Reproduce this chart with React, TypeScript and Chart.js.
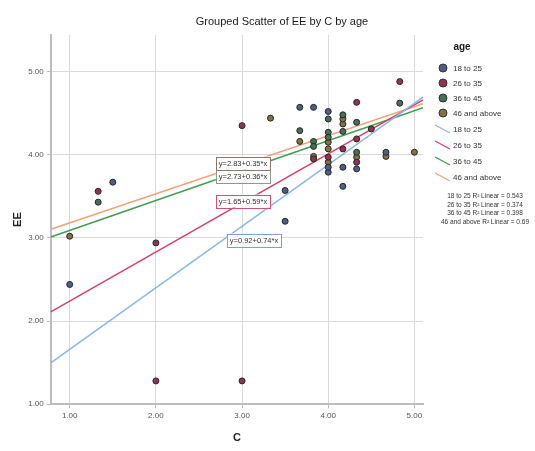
import React, { useEffect, useRef } from "react";
import { Chart, registerables } from "chart.js";

Chart.register(...registerables);

// ---- data ----
const GROUPS = ["18 to 25", "26 to 35", "36 to 45", "46 and above"];
const X_TICKS = [1, 2, 3, 4, 5];
const Y_TICKS = [1, 2, 3, 4, 5];
const X_MIN = 0.78;
const X_MAX = 5.1;
const Y_MIN = 1;
const Y_MAX = 5.44;

const C_18 = [1.0, 1.5, 3.5, 3.5, 3.67, 3.83, 4.0, 4.0, 4.0, 4.17, 4.17, 4.33, 4.67];
const EE_18 = [2.44, 3.67, 3.2, 3.57, 4.57, 4.57, 4.52, 3.79, 3.85, 3.62, 3.85, 3.83, 4.03];

const C_26 = [1.33, 2.0, 2.0, 3.0, 3.0, 3.83, 4.0, 4.17, 4.33, 4.33, 4.33, 4.5, 4.83];
const EE_26 = [3.56, 2.94, 1.28, 1.28, 4.35, 3.95, 3.97, 4.07, 4.63, 3.91, 4.19, 4.31, 4.88];

const C_36 = [1.33, 3.67, 3.83, 3.83, 4.0, 4.0, 4.0, 4.17, 4.17, 4.33, 4.33, 4.83];
const EE_36 = [3.43, 4.29, 4.16, 4.1, 4.27, 4.21, 4.43, 4.48, 4.28, 4.39, 4.03, 4.62];

const C_46 = [1.0, 3.33, 3.67, 3.83, 4.0, 4.0, 4.0, 4.17, 4.17, 4.33, 4.67, 5.0];
const EE_46 = [3.02, 4.44, 4.16, 3.98, 4.15, 4.07, 3.91, 4.37, 4.43, 3.97, 3.98, 4.03];

const INTERCEPTS = [0.92, 1.65, 2.73, 2.83];
const SLOPES = [0.74, 0.59, 0.36, 0.35];
const R2 = ["0.543", "0.374", "0.398", "0.69"];

// ---- styles ----
const POINT_FILL = ["#4e5f86", "#93324f", "#466f56", "#857040"];
const LINE_COLORS = ["#8ab8e4", "#d6416a", "#3f9c52", "#f2a276"];
const BOX_BORDER = ["#7f9fd0", "#d0507a", "#8a9a8a", "#8a7a6a"];
const LABEL_CENTERS = [
  { x: 254, y: 240 },
  { x: 243, y: 201 },
  { x: 243, y: 176 },
  { x: 243, y: 163 },
];
const FONT = "'Liberation Sans', Arial, sans-serif";

const toPts = (xs: number[], ys: number[]) => xs.map((x, i) => ({ x, y: ys[i] }));
const SERIES = [toPts(C_18, EE_18), toPts(C_26, EE_26), toPts(C_36, EE_36), toPts(C_46, EE_46)];

const fitLabel = (i: number) => `y=${INTERCEPTS[i].toFixed(2)}+${SLOPES[i].toFixed(2)}*x`;

const overlayPlugin = {
  id: "overlay",
  afterDatasetsDraw(chart: any) {
    const ctx = chart.ctx as CanvasRenderingContext2D;
    ctx.save();
    for (let i = 0; i < 4; i++) {
      const c = LABEL_CENTERS[i];
      ctx.font = `7.5px ${FONT}`;
      const t = fitLabel(i);
      const w = ctx.measureText(t).width + 6;
      const h = 13;
      ctx.fillStyle = "#ffffff";
      ctx.fillRect(c.x - w / 2, c.y - h / 2, w, h);
      ctx.strokeStyle = BOX_BORDER[i];
      ctx.lineWidth = 1;
      ctx.strokeRect(Math.round(c.x - w / 2) + 0.5, Math.round(c.y - h / 2) + 0.5, Math.round(w), h);
      ctx.fillStyle = "#333";
      ctx.textAlign = "center";
      ctx.textBaseline = "middle";
      ctx.fillText(t, c.x, c.y + 0.5);
    }
    ctx.restore();
  },
  afterDraw(chart: any) {
    const ctx = chart.ctx as CanvasRenderingContext2D;
    ctx.save();
    ctx.fillStyle = "#1a1a1a";
    ctx.font = `11px ${FONT}`;
    ctx.textAlign = "center";
    ctx.textBaseline = "middle";
    ctx.fillText("Grouped Scatter of EE by C by age", 282, 22);

    ctx.font = `bold 10px ${FONT}`;
    ctx.fillText("age", 462, 47);

    ctx.textAlign = "left";
    ctx.font = `8px ${FONT}`;
    const markerY = [68, 83, 98, 113];
    for (let i = 0; i < 4; i++) {
      ctx.beginPath();
      ctx.arc(443, markerY[i], 4, 0, Math.PI * 2);
      ctx.fillStyle = POINT_FILL[i];
      ctx.fill();
      ctx.strokeStyle = "#333";
      ctx.lineWidth = 1;
      ctx.stroke();
      ctx.fillStyle = "#333";
      ctx.fillText(GROUPS[i], 453, markerY[i] + 0.5);
    }
    const lineY = [129, 145, 161, 177];
    for (let i = 0; i < 4; i++) {
      ctx.beginPath();
      ctx.moveTo(435, lineY[i] - 4);
      ctx.lineTo(450, lineY[i] + 4);
      ctx.strokeStyle = LINE_COLORS[i];
      ctx.lineWidth = 1.3;
      ctx.stroke();
      ctx.fillStyle = "#333";
      ctx.fillText(GROUPS[i], 453, lineY[i] + 0.5);
    }
    ctx.textAlign = "center";
    ctx.font = `6.5px ${FONT}`;
    const r2Y = [196, 205, 213, 222];
    for (let i = 0; i < 4; i++) {
      ctx.fillStyle = "#333";
      ctx.fillText(`${GROUPS[i]} R² Linear = ${R2[i]}`, 485, r2Y[i]);
    }
    ctx.restore();
  },
};

export default function App() {
  const ref = useRef<HTMLCanvasElement | null>(null);
  useEffect(() => {
    if (!ref.current) return;
    const lineSets = GROUPS.map((g, i) => ({
      type: "line" as const,
      label: g + " fit",
      data: [
        { x: X_MIN, y: INTERCEPTS[i] + SLOPES[i] * X_MIN },
        { x: X_MAX, y: INTERCEPTS[i] + SLOPES[i] * X_MAX },
      ],
      borderColor: LINE_COLORS[i],
      borderWidth: 1.5,
      pointRadius: 0,
      fill: false,
      order: 2,
    }));
    const pointSets = GROUPS.map((g, i) => ({
      type: "scatter" as const,
      label: g,
      data: SERIES[i],
      backgroundColor: POINT_FILL[i],
      borderColor: "#262626",
      borderWidth: 1,
      pointRadius: 3,
      order: 1,
    }));
    const tickFont = { family: FONT, size: 8 };
    const chart = new Chart(ref.current, {
      type: "scatter",
      data: { datasets: [...pointSets, ...lineSets] as any },
      options: {
        animation: false,
        responsive: false,
        layout: { padding: { left: 7, right: 112, top: 35, bottom: 6 } },
        plugins: { legend: { display: false }, tooltip: { enabled: false }, title: { display: false } },
        scales: {
          x: {
            type: "linear",
            min: X_MIN,
            max: X_MAX,
            afterBuildTicks: (s: any) => {
              s.ticks = X_TICKS.map((v) => ({ value: v }));
            },
            ticks: { font: tickFont, color: "#555", padding: 3, callback: (v: any) => Number(v).toFixed(2) },
            grid: { color: "#dadada", lineWidth: 1, tickLength: 4, tickColor: "#bbbbbb" },
            border: { color: "#bdbdbd", width: 2 },
            title: { display: true, text: "C", font: { family: FONT, size: 11, weight: "bold" }, color: "#222", padding: { top: 8, bottom: 0 } },
          },
          y: {
            type: "linear",
            min: Y_MIN,
            max: Y_MAX,
            afterBuildTicks: (s: any) => {
              s.ticks = Y_TICKS.map((v) => ({ value: v }));
            },
            ticks: { font: tickFont, color: "#555", padding: 3, callback: (v: any) => Number(v).toFixed(2) },
            grid: { color: "#dadada", lineWidth: 1, tickLength: 4, tickColor: "#bbbbbb" },
            border: { color: "#bdbdbd", width: 2 },
            title: { display: true, text: "EE", font: { family: FONT, size: 11, weight: "bold" }, color: "#222", padding: { top: 4, bottom: 1 } },
          },
        },
      },
      plugins: [overlayPlugin],
    });
    return () => chart.destroy();
  }, []);
  return (
    <div style={{ position: "absolute", left: 0, top: 0, width: 535, height: 451, background: "#fff" }}>
      <canvas ref={ref} width={535} height={451} style={{ display: "block" }} />
    </div>
  );
}
